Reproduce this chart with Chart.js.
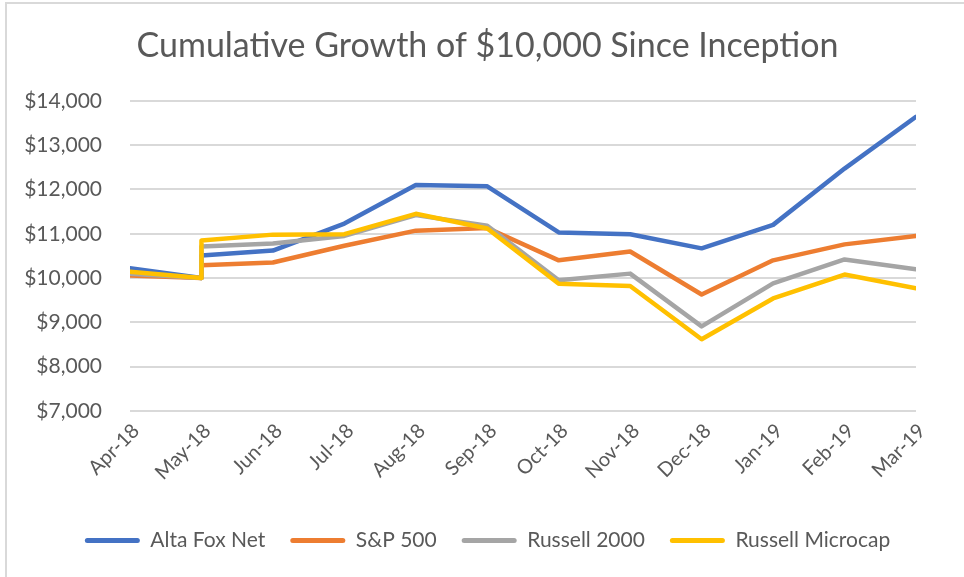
<!DOCTYPE html>
<html>
<head>
<meta charset="utf-8">
<script src="https://cdn.jsdelivr.net/npm/chart.js@4/dist/chart.umd.min.js"></script>
<style>
  body { margin: 0; background: #fff; }
  #frame { position: absolute; left: 5px; top: 2px; width: 959px; height: 575px;
           border-left: 2px solid #d9d9d9; border-top: 2px solid #d9d9d9; }
  #wrap { position: absolute; left: 0; top: 0; width: 964px; height: 577px; }
</style>
</head>
<body>
<div id="frame"></div>
<div id="wrap"><canvas id="myChart"></canvas></div>
<script>
// Meses del eje
const labels = ['Apr-18', 'May-18', 'Jun-18', 'Jul-18', 'Aug-18', 'Sep-18',
                'Oct-18', 'Nov-18', 'Dec-18', 'Jan-19', 'Feb-19', 'Mar-19'];
// Mes de cada punto (May-18 aparece dos veces: salto vertical)
const pointMonths = ['Apr-18', 'May-18', 'May-18', 'Jun-18', 'Jul-18', 'Aug-18', 'Sep-18',
                     'Oct-18', 'Nov-18', 'Dec-18', 'Jan-19', 'Feb-19', 'Mar-19'];

const altaFox   = [10220, 10000, 10510, 10620, 11230, 12100, 12070, 11030, 10990, 10670, 11200, 12470, 13640];
const sp500     = [10060, 10000, 10290, 10350, 10730, 11070, 11130, 10400, 10600, 9630, 10400, 10760, 10950];
const russell2k = [10100, 10000, 10710, 10780, 10950, 11420, 11180, 9950, 10100, 8910, 9880, 10420, 10200];
const microcap  = [10140, 10000, 10850, 10980, 10990, 11450, 11120, 9870, 9820, 8620, 9540, 10080, 9770];

const yTicks = [7000, 8000, 9000, 10000, 11000, 12000, 13000, 14000];

function puntos(valores) {
    return valores.map((v, i) => ({ x: labels.indexOf(pointMonths[i]), y: v }));
}

function serie(nombre, valores, color, orden) {
    return {
        label: nombre,
        data: puntos(valores),
        borderColor: color,
        backgroundColor: color,
        borderWidth: 4.5,
        pointRadius: 0,
        tension: 0,
        borderJoinStyle: 'round',
        borderCapStyle: 'round',
        order: orden
    };
}

const gris = '#595959';
const fuente = 'Lato, "Open Sans", sans-serif';

new Chart(document.getElementById('myChart').getContext('2d'), {
    type: 'line',
    data: {
        datasets: [
            serie('Alta Fox Net', altaFox, '#4472C4', 4),
            serie('S&P 500', sp500, '#ED7D31', 3),
            serie('Russell 2000', russell2k, '#A5A5A5', 2),
            serie('Russell Microcap', microcap, '#FFC000', 1)
        ]
    },
    options: {
        responsive: true,
        maintainAspectRatio: false,
        animation: false,
        layout: { padding: { left: 20, right: 9, top: 18, bottom: 16 } },
        plugins: {
            title: {
                display: true,
                text: 'Cumulative Growth of $10,000 Since Inception',
                color: gris,
                font: { family: fuente, size: 34, weight: 'normal' },
                padding: { top: 8, bottom: 34 }
            },
            legend: {
                position: 'bottom',
                labels: {
                    color: gris,
                    font: { family: fuente, size: 21 },
                    boxWidth: 55,
                    boxHeight: 5,
                    padding: 25,
                    useBorderRadius: true,
                    borderRadius: 2.5,
                    generateLabels: (chart) =>
                        Chart.defaults.plugins.legend.labels.generateLabels(chart)
                            .map(l => Object.assign(l, { lineWidth: 0 })),
                    sort: (a, b) => a.datasetIndex - b.datasetIndex
                }
            },
            tooltip: { enabled: false }
        },
        scales: {
            x: {
                type: 'linear',
                min: 0,
                max: labels.length - 1,
                afterBuildTicks: (scale) => {
                    scale.ticks = labels.map((l, i) => ({ value: i }));
                },
                afterFit: (scale) => { scale.height = 94; },
                ticks: {
                    color: gris,
                    font: { family: fuente, size: 20 },
                    minRotation: 45,
                    maxRotation: 45,
                    padding: 0,
                    labelOffset: 6,
                    callback: (v) => labels[v]
                },
                grid: { display: false },
                border: { display: false }
            },
            y: {
                min: 7000,
                max: 14000,
                afterBuildTicks: (scale) => {
                    scale.ticks = yTicks.map(v => ({ value: v }));
                },
                afterFit: (scale) => { scale.width = 110; },
                ticks: {
                    color: gris,
                    font: { family: fuente, size: 21 },
                    padding: 28,
                    callback: (v) => '$' + v.toLocaleString('en-US')
                },
                grid: { color: '#d9d9d9', lineWidth: 2, drawTicks: false },
                border: { display: false }
            },
            // eje vacio a la derecha, solo para dejar margen
            yDerecha: {
                position: 'right',
                min: 7000,
                max: 14000,
                afterFit: (scale) => { scale.width = 39; },
                ticks: { display: false },
                grid: { display: false },
                border: { display: false }
            }
        }
    }
});
</script>
</body>
</html>
